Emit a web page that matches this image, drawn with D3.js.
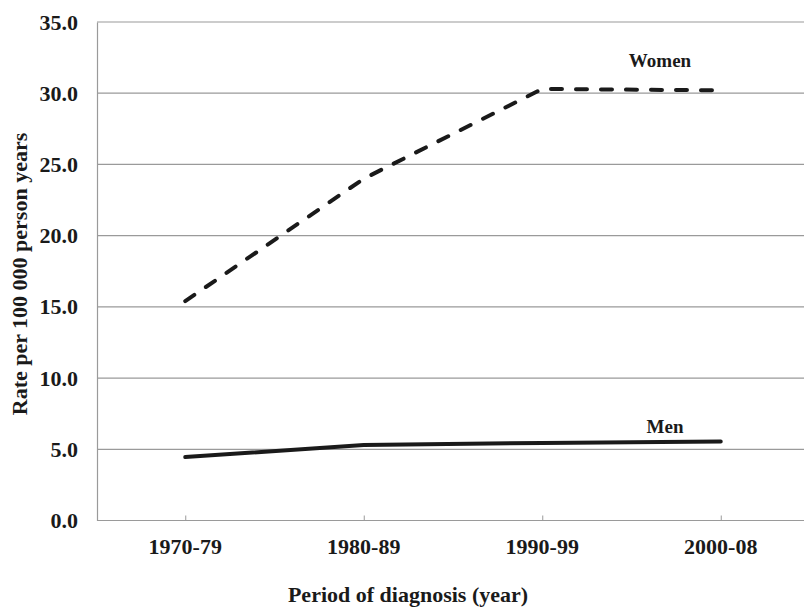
<!DOCTYPE html>
<html>
<head>
<meta charset="utf-8">
<script src="https://cdn.jsdelivr.net/npm/d3@7"></script>
<style>
  html, body { margin: 0; padding: 0; background: #fff; }
  svg { display: block; }
  text { font-family: "Liberation Serif", "Times New Roman", serif; font-weight: bold; fill: #1a1a1a; }
</style>
</head>
<body>
<svg id="chart" width="804" height="612"></svg>
<script>
const categories = ["1970-79", "1980-89", "1990-99", "2000-08"];
const women = [15.4, 24.0, 30.3, 30.2];
const men = [4.45, 5.3, 5.45, 5.55];
const yTicks = [0, 5, 10, 15, 20, 25, 30, 35];
const seriesLabels = ["Women", "Men"];
const xTitle = "Period of diagnosis (year)";
const yTitle = "Rate per 100 000 person years";

(function () {
const svg = d3.select("#chart");
const plotLeft = 97, plotRight = 804, plotTop = 22, plotBottom = 520.5;

const x = d3.scalePoint().domain(categories).range([96, 810]).padding(0.5);
const y = d3.scaleLinear().domain([0, 35]).range([plotBottom, plotTop]);

// gridlines
svg.append("g").selectAll("line").data(yTicks.filter(d => d > 0)).join("line")
  .attr("x1", plotLeft).attr("x2", plotRight)
  .attr("y1", d => y(d)).attr("y2", d => y(d))
  .attr("stroke", "#9a9a9a").attr("stroke-width", 1.2);

// y axis
const yAxis = d3.axisLeft(y).tickValues(yTicks).tickFormat(d3.format(".1f")).tickSize(0).tickPadding(19);
const gy = svg.append("g").attr("transform", `translate(${plotLeft},0)`).call(yAxis);
gy.select(".domain").attr("stroke", "#9a9a9a").attr("stroke-width", 1.2);
gy.selectAll("text").attr("font-size", 22).attr("font-family", "Liberation Serif").attr("font-weight", "bold").attr("fill", "#1a1a1a");

// x axis
const xAxis = d3.axisTop(x).tickSize(5).tickPadding(0).tickFormat("");
const gx = svg.append("g").attr("transform", `translate(0,${plotBottom})`).call(xAxis);
gx.select(".domain").remove();
gx.append("line").attr("x1", plotLeft).attr("x2", plotRight).attr("y1", 0).attr("y2", 0)
  .attr("stroke", "#9a9a9a").attr("stroke-width", 1.2);
gx.selectAll(".tick line").attr("stroke", "#9a9a9a");

svg.append("g").selectAll("text").data(categories).join("text")
  .attr("x", d => x(d)).attr("y", 554)
  .attr("text-anchor", "middle").attr("font-size", 22)
  .text(d => d);

// titles
svg.append("text").attr("x", 408).attr("y", 602).attr("text-anchor", "middle")
  .attr("font-size", 22).text(xTitle);
svg.append("text").attr("transform", "translate(27,274) rotate(-90)")
  .attr("text-anchor", "middle").attr("font-size", 22).text(yTitle);

// lines
const line = d3.line().x((d, i) => x(categories[i])).y(d => y(d));
svg.append("path").datum(women).attr("d", line)
  .attr("fill", "none").attr("stroke", "#1a1a1a").attr("stroke-width", 4)
  .attr("stroke-dasharray", "11,14").attr("stroke-linecap", "round");
svg.append("path").datum(men).attr("d", line)
  .attr("fill", "none").attr("stroke", "#1a1a1a").attr("stroke-width", 4)
  .attr("stroke-linecap", "round");

// series labels
svg.append("text").attr("x", 660).attr("y", 67).attr("text-anchor", "middle")
  .attr("font-size", 19).text(seriesLabels[0]);
svg.append("text").attr("x", 665).attr("y", 433).attr("text-anchor", "middle")
  .attr("font-size", 19).text(seriesLabels[1]);
})();
</script>
</body>
</html>
